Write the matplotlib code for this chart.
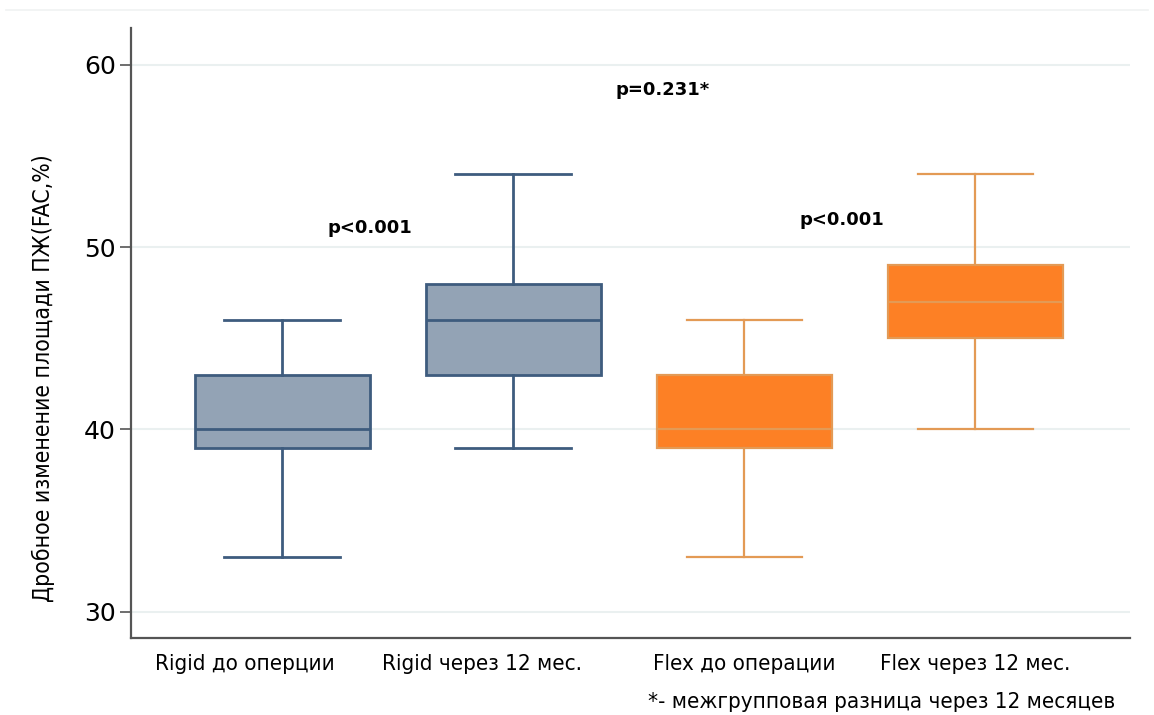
import matplotlib
matplotlib.use("Agg")
import matplotlib.pyplot as plt
from matplotlib.transforms import ScaledTranslation

# FAC, % — five-number summaries per group
groups = ["Rigid до оперции", "Rigid через 12 мес.", "Flex до операции", "Flex через 12 мес."]
whislo = [33, 39, 33, 40]
q1 = [39, 43, 39, 45]
med = [40, 46, 40, 47]
q3 = [43, 48, 43, 49]
whishi = [46, 54, 46, 54]

pvals = ["p<0.001", "p=0.231*", "p<0.001"]
footnote = "*- межгрупповая разница через 12 месяцев"
ylabel = "Дробное изменение площади ПЖ(FAC,%)"

BLUE_FILL = "#93a3b5"
BLUE_EDGE = "#3e5c7e"
ORANGE_FILL = "#fd8025"
ORANGE_EDGE = "#e39a55"

narrow = dict(fontfamily="DejaVu Sans", fontstretch="condensed")

fig = plt.figure(figsize=(11.54, 7.15), dpi=100)
ax = fig.add_axes([0.1135, 0.108, 0.866, 0.853])

stats = []
for i, g in enumerate(groups):
    stats.append(dict(label=g, whislo=whislo[i], q1=q1[i], med=med[i],
                      q3=q3[i], whishi=whishi[i], fliers=[]))

pos = [1, 2, 3, 4]
for i, s in enumerate(stats):
    fill, edge = (BLUE_FILL, BLUE_EDGE) if i < 2 else (ORANGE_FILL, ORANGE_EDGE)
    lw = 2.0 if i < 2 else 1.6
    ax.bxp([s], positions=[pos[i]], widths=0.757, capwidths=0.5,
           patch_artist=True, showfliers=False,
           boxprops=dict(facecolor=fill, edgecolor=edge, linewidth=lw),
           medianprops=dict(color=edge, linewidth=lw),
           whiskerprops=dict(color=edge, linewidth=lw),
           capprops=dict(color=edge, linewidth=lw), zorder=3)

ax.set_xlim(0.346, 4.67)
ax.set_ylim(28.57, 62.03)
ax.set_yticks([30, 40, 50, 60])
ax.yaxis.grid(True, color="#eaf0f0", linewidth=1.5, zorder=0)
ax.set_axisbelow(True)

for side in ["top", "right"]:
    ax.spines[side].set_visible(False)
for side in ["left", "bottom"]:
    ax.spines[side].set_color("#555555")
    ax.spines[side].set_linewidth(1.6)

ax.tick_params(axis="y", length=8, width=1.2, color="#555555", labelsize=18, pad=3)
ax.tick_params(axis="x", length=0, pad=12)
ax.set_xticks(pos)
ax.set_xticklabels(groups, fontsize=16, **narrow)
# the Rigid labels sit a little left of their boxes
for lbl, dx in zip(ax.get_xticklabels(), [-0.37, -0.31, 0, 0]):
    lbl.set_transform(lbl.get_transform() + ScaledTranslation(dx, 0, fig.dpi_scale_trans))

ax.set_ylabel(ylabel, fontsize=16.5, **narrow)
ax.yaxis.set_label_coords(-0.076, 0.426)

# significance labels
ax.text(1.381, 51.06, pvals[0], ha="center", va="center", fontsize=13, fontweight="bold")
ax.text(2.645, 58.63, pvals[1], ha="center", va="center", fontsize=13, fontweight="bold")
ax.text(3.424, 51.5, pvals[2], ha="center", va="center", fontsize=13, fontweight="bold")

fig.text(0.5615, 0.018, footnote, fontsize=16, ha="left", va="center", **narrow)
fig.add_artist(plt.Line2D([0.005, 0.995], [0.986, 0.986], color="#f0f2f2", linewidth=1.2))

fig.savefig("out.png", dpi=100)
